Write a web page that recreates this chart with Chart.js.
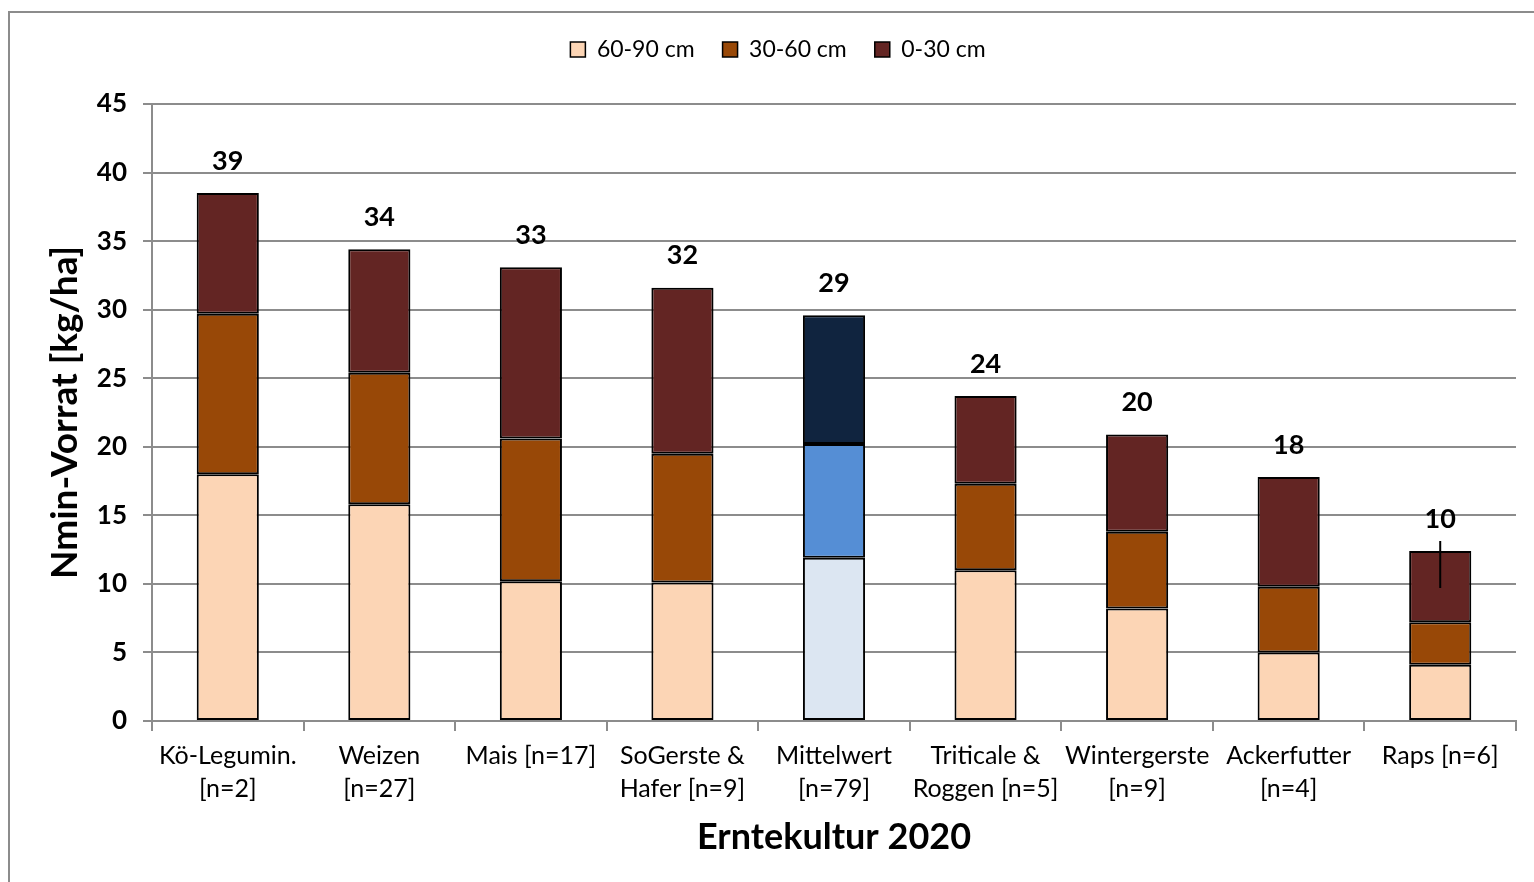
<!DOCTYPE html>
<html>
<head>
<meta charset="utf-8">
<script src="https://cdn.jsdelivr.net/npm/chart.js@4.4.0/dist/chart.umd.min.js"></script>
<style>
    html, body { margin: 0; padding: 0; background: #fff; overflow: hidden; }
    #frame {
        position: absolute; left: 8px; top: 11px; width: 1600px; height: 1000px;
        border: 2px solid #8c8c8c; box-sizing: border-box;
    }
    #wrap { position: absolute; left: 0; top: 0; width: 1534px; height: 882px; }
</style>
</head>
<body>
<div id="frame"></div>
<div id="wrap"><canvas id="chart"></canvas></div>
<script>
const categories = [
    ['Kö-Legumin.', '[n=2]'],
    ['Weizen', '[n=27]'],
    'Mais [n=17]',
    ['SoGerste &', 'Hafer [n=9]'],
    ['Mittelwert', '[n=79]'],
    ['Triticale &', 'Roggen [n=5]'],
    ['Wintergerste', '[n=9]'],
    ['Ackerfutter', '[n=4]'],
    'Raps [n=6]'
];
const depth60to90 = [18.0, 15.8, 10.2, 10.1, 11.9, 11.0, 8.2, 5.0, 4.1];
const depth30to60 = [11.7, 9.6, 10.4, 9.4, 8.3, 6.3, 5.6, 4.8, 3.1];
const depth0to30 = [8.8, 9.0, 12.5, 12.1, 9.4, 6.4, 7.1, 8.0, 5.2];
const totalLabels = ['39', '34', '33', '32', '29', '24', '20', '18', '10'];
const yTicks = [0, 5, 10, 15, 20, 25, 30, 35, 40, 45];

const meanIndex = 4;
const leaderIndex = 8;
const brownColors = ['#FCD5B5', '#984807', '#632523'];
const blueColors = ['#DCE6F2', '#558ED5', '#10243F'];
const FONT = "Lato, 'Open Sans', sans-serif";

function colorFor(layer) {
    return ctx => ctx.dataIndex === meanIndex ? blueColors[layer] : brownColors[layer];
}

// extra room under the legend and nudge it a bit right like the original
const legendSpacing = {
    id: 'legendSpacing',
    beforeInit(chart) {
        const legend = chart.legend;
        const origFit = legend.fit;
        legend.fit = function() {
            origFit.call(this);
            this.height += 33;
        };
        const origDraw = legend.draw;
        legend.draw = function() {
            this.ctx.save();
            this.ctx.translate(20, 0);
            origDraw.call(this);
            this.ctx.restore();
        };
    }
};

// totals above the stacks, plus the little leader line for Raps
const totalsPlugin = {
    id: 'totals',
    afterDatasetsDraw(chart) {
        const ctx = chart.ctx;
        const lastMeta = chart.getDatasetMeta(chart.data.datasets.length - 1);
        ctx.save();
        ctx.font = 'bold 27px ' + FONT;
        ctx.fillStyle = '#000';
        ctx.textAlign = 'center';
        ctx.textBaseline = 'middle';
        lastMeta.data.forEach((bar, i) => {
            const y = bar.y - 32;
            ctx.fillText(totalLabels[i], bar.x, y);
            if (i === leaderIndex) {
                ctx.strokeStyle = '#000';
                ctx.lineWidth = 2;
                ctx.beginPath();
                ctx.moveTo(bar.x, y + 22);
                ctx.lineTo(bar.x, bar.y + 37);
                ctx.stroke();
            }
        });
        ctx.restore();
    }
};

const ctx = document.getElementById('chart').getContext('2d');
new Chart(ctx, {
    type: 'bar',
    data: {
        labels: categories,
        datasets: [
            { label: '60-90 cm', data: depth60to90, backgroundColor: colorFor(0) },
            { label: '30-60 cm', data: depth30to60, backgroundColor: colorFor(1) },
            { label: '0-30 cm', data: depth0to30, backgroundColor: colorFor(2) }
        ]
    },
    options: {
        responsive: true,
        maintainAspectRatio: false,
        animation: false,
        layout: { padding: { left: 0, right: 18, top: 10, bottom: 0 } },
        datasets: {
            bar: {
                borderColor: '#000',
                borderWidth: 2,
                borderSkipped: false,
                barPercentage: 0.41,
                categoryPercentage: 1
            }
        },
        plugins: {
            tooltip: { enabled: false },
            legend: {
                position: 'top',
                labels: {
                    color: '#000',
                    font: { family: FONT, size: 23 },
                    boxWidth: 15,
                    boxHeight: 15,
                    padding: 28,
                    generateLabels(chart) {
                        return chart.data.datasets.map((ds, i) => ({
                            text: ds.label,
                            fillStyle: brownColors[i],
                            strokeStyle: '#000',
                            lineWidth: 1.5,
                            datasetIndex: i
                        }));
                    }
                }
            }
        },
        scales: {
            x: {
                stacked: true,
                grid: {
                    offset: true,
                    drawOnChartArea: false,
                    color: '#8c8c8c',
                    lineWidth: 2,
                    tickLength: 10
                },
                border: { color: '#8c8c8c', width: 2 },
                ticks: {
                    color: '#000',
                    font: { family: FONT, size: 25, lineHeight: 1.32 },
                    padding: 8,
                    maxRotation: 0,
                    autoSkip: false
                },
                title: {
                    display: true,
                    text: 'Erntekultur 2020',
                    color: '#000',
                    font: { family: FONT, size: 36, weight: 'bold' },
                    padding: { top: 0, bottom: 23 }
                },
                afterFit(scale) { scale.height = 161; }
            },
            y: {
                stacked: true,
                min: 0,
                max: 45,
                afterBuildTicks(scale) { scale.ticks = yTicks.map(v => ({ value: v })); },
                grid: { color: '#8c8c8c', lineWidth: 2, tickLength: 9 },
                border: { color: '#8c8c8c', width: 2 },
                ticks: {
                    color: '#000',
                    font: { family: FONT, size: 26, weight: 'bold' },
                    padding: 16
                },
                title: {
                    display: true,
                    text: 'Nmin-Vorrat [kg/ha]',
                    color: '#000',
                    font: { family: FONT, size: 37, weight: 'bold' },
                    padding: { top: 43, bottom: 0 }
                },
                afterFit(scale) { scale.width = 152; }
            }
        }
    },
    plugins: [legendSpacing, totalsPlugin]
});
</script>
</body>
</html>
